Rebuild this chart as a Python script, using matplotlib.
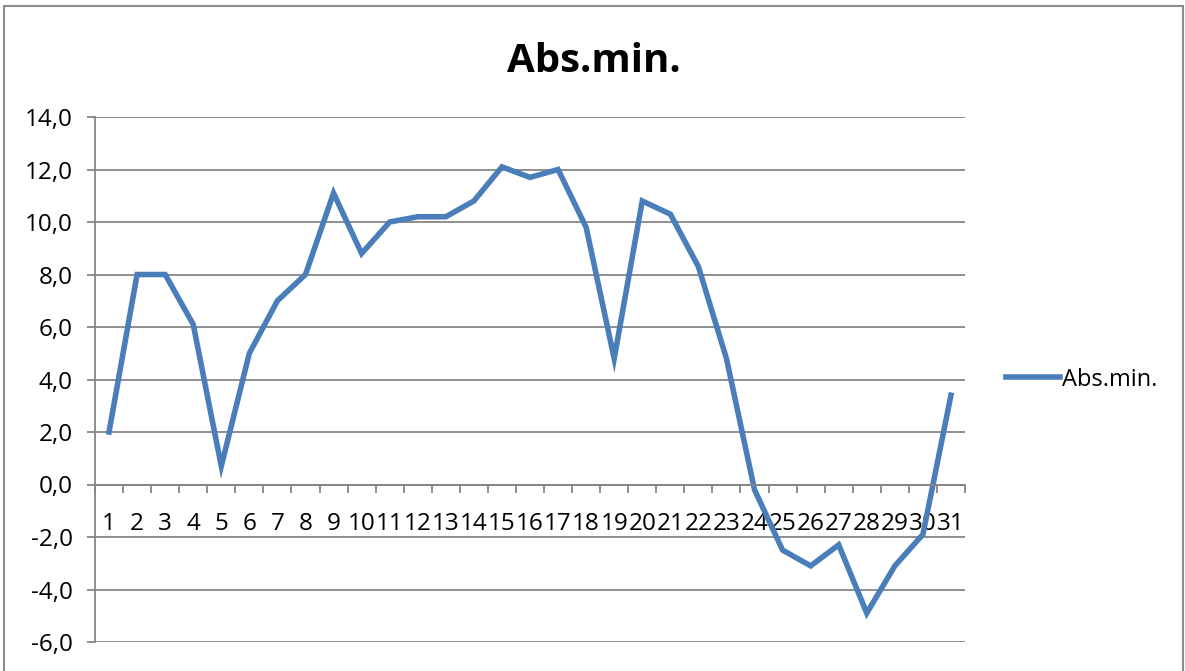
import matplotlib
matplotlib.use('Agg')
import matplotlib.pyplot as plt
from matplotlib.patches import Rectangle
from matplotlib.ticker import FuncFormatter, FixedLocator

days = list(range(1, 32))
abs_min = [2.0, 8.0, 8.0, 6.1, 0.7, 5.0, 7.0, 8.0, 11.1, 8.8,
           10.0, 10.2, 10.2, 10.8, 12.1, 11.7, 12.0, 9.8, 4.8, 10.8,
           10.3, 8.3, 4.8, -0.2, -2.5, -3.1, -2.3, -4.9, -3.1, -1.9, 3.4]
series_name = 'Abs.min.'
y_ticks = [-6, -4, -2, 0, 2, 4, 6, 8, 10, 12, 14]

plt.rcParams['font.family'] = ['Open Sans', 'DejaVu Sans']
line_color = '#4A7EBB'
grid_color = '#868686'

fig = plt.figure(figsize=(11.85, 6.71), dpi=100)
ax = fig.add_axes([95 / 1185, 1 - 642 / 671, 870 / 1185, 525 / 671])

# outer chart frame (bottom edge falls outside the picture)
fig.patches.append(Rectangle((4 / 1185, -0.05), 1179 / 1185, 1.05 - 6 / 671,
                             transform=fig.transFigure, fill=False,
                             edgecolor='#8c8c8c', linewidth=1.5))

ax.plot(days, abs_min, color=line_color, linewidth=4.0,
        solid_joinstyle='miter', label=series_name)

ax.set_xlim(0.5, 31.5)
ax.set_ylim(-6, 14)
ax.set_yticks(y_ticks)
ax.yaxis.set_major_formatter(FuncFormatter(lambda v, p: '{:.1f}'.format(v).replace('.', ',')))
ax.yaxis.grid(True, color=grid_color, linewidth=1.3)
ax.set_axisbelow(True)

for s in ['top', 'right']:
    ax.spines[s].set_visible(False)
ax.spines['left'].set_color(grid_color)
ax.spines['left'].set_linewidth(1.3)
ax.spines['bottom'].set_position(('data', 0))
ax.spines['bottom'].set_color(grid_color)
ax.spines['bottom'].set_linewidth(1.3)

ax.tick_params(axis='y', length=6, width=1.3, color=grid_color, labelsize=17.5, pad=10)
ax.set_xticks(days)
ax.set_xticklabels([str(d) for d in days])
ax.tick_params(axis='x', which='major', length=0, labelsize=17.5, pad=20)
ax.xaxis.set_minor_locator(FixedLocator([d + 0.5 for d in range(0, 32)]))
ax.tick_params(axis='x', which='minor', length=6, width=1.3, color=grid_color)

fig.text(594 / 1185, 1 - 61 / 671, 'Abs.min.', ha='center', va='center',
         fontsize=29, fontweight='bold')

ax.legend(loc='center left', bbox_to_anchor=(1.036, 0.5), frameon=False,
          fontsize=17, handlelength=2.3, handletextpad=0.1, borderaxespad=0)

fig.savefig('out.png', dpi=100)
